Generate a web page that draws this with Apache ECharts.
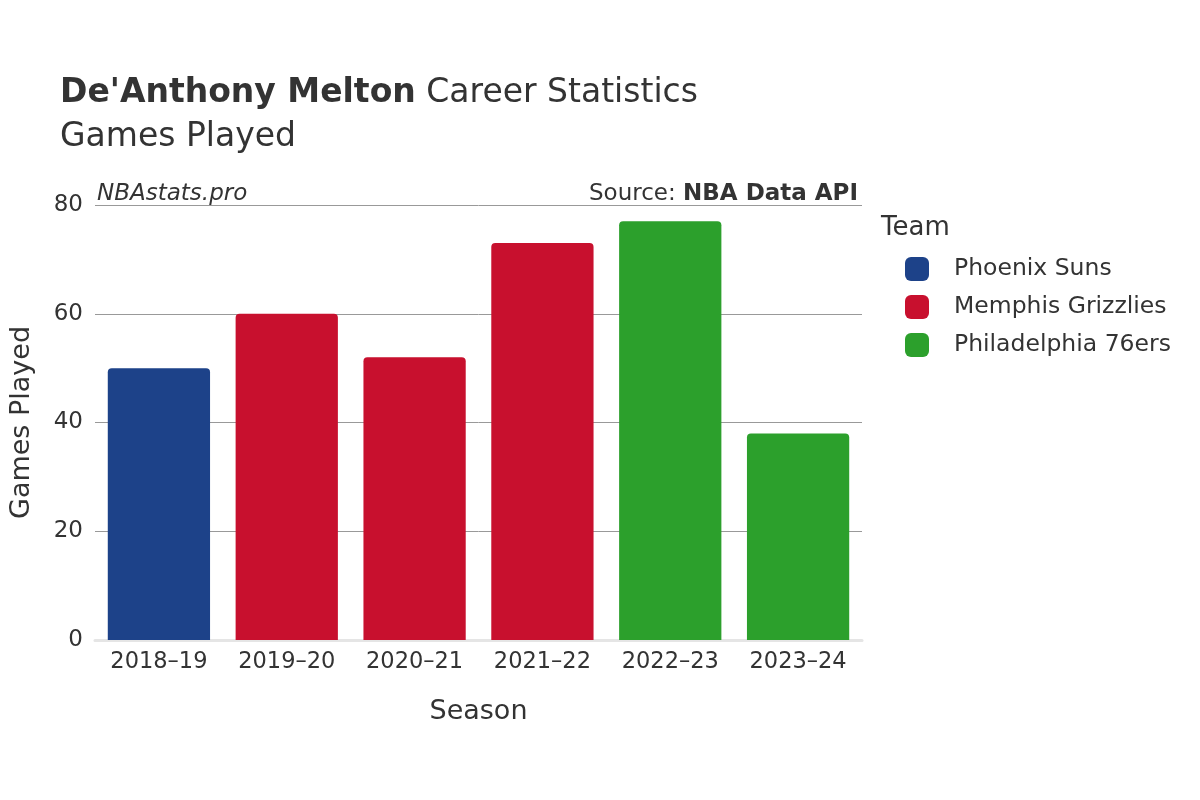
<!DOCTYPE html>
<html>
<head>
<meta charset="utf-8">
<script src="https://cdn.jsdelivr.net/npm/echarts@6/dist/echarts.min.js"></script>
</head>
<body style="margin:0">
<div id="main" style="width:1200px;height:800px;"></div>
<script>
var seasons = ['2018–19', '2019–20', '2020–21', '2021–22', '2022–23', '2023–24'];
var teams = ['Phoenix Suns', 'Memphis Grizzlies', 'Philadelphia 76ers'];
var colors = ['#1d4289', '#c8102e', '#2ca02c'];
var suns = [50, null, null, null, null, null];
var grizzlies = [null, 60, 52, 73, null, null];
var sixers = [null, null, null, null, 77, 38];
var yTicks = [0, 20, 40, 60, 80];

var font = 'DejaVu Sans';
var chart = echarts.init(document.getElementById('main'));
function mk(name, data, i) {
    return {
        name: name, type: 'bar', stack: 'g', data: data, barCategoryGap: '20%',
        itemStyle: { color: colors[i], borderRadius: [4, 4, 0, 0] }
    };
}
chart.setOption({
    animation: false,
    textStyle: { fontFamily: font },
    title: [
        { text: "{b|De'Anthony Melton} Career Statistics\nGames Played", left: 55, top: 66,
          textStyle: { fontFamily: font, fontSize: 33, color: '#333', fontWeight: 'normal', lineHeight: 44,
            rich: { b: { fontFamily: font, fontSize: 33, fontWeight: 'bold', color: '#333' } } } },
        { text: 'NBAstats.pro', left: 92, top: 178,
          textStyle: { fontFamily: font, fontSize: 23, fontStyle: 'italic', fontWeight: 'normal', color: '#333' } },
        { text: 'Source: {b|NBA Data API}', right: 337, top: 178,
          textStyle: { fontFamily: font, fontSize: 23, fontWeight: 'normal', color: '#333',
            rich: { b: { fontFamily: font, fontSize: 23, fontWeight: 'bold', color: '#333' } } } },
        { text: 'Team', left: 876, top: 210, textStyle: { fontFamily: font, fontSize: 26, fontWeight: 'normal', color: '#333' } }
    ],
    legend: {
        data: teams, orient: 'vertical', left: 900, top: 252, itemGap: 14,
        itemWidth: 24, itemHeight: 24, icon: 'roundRect',
        textStyle: { fontFamily: font, fontSize: 23.5, color: '#333', padding: [0, 0, 0, 20] }
    },
    grid: { left: 92, right: 338, top: 205, bottom: 160 },
    xAxis: {
        type: 'category', data: seasons, name: 'Season', nameLocation: 'middle', nameGap: 58,
        nameTextStyle: { fontSize: 27, color: '#333' },
        axisLine: { lineStyle: { color: '#e5e5e5', width: 3 } },
        axisTick: { show: false },
        axisLabel: { fontSize: 22.5, color: '#333', margin: 11, interval: 0 }
    },
    yAxis: {
        type: 'value', min: 0, max: 80, interval: 20, name: 'Games Played', nameLocation: 'middle', nameGap: 60,
        nameTextStyle: { fontSize: 27, color: '#333' },
        axisLine: { show: false }, axisTick: { show: false },
        axisLabel: { fontSize: 23, color: '#333', margin: 12 },
        splitLine: { lineStyle: { color: '#999', width: 1 } }
    },
    series: [mk(teams[0], suns, 0), mk(teams[1], grizzlies, 1), mk(teams[2], sixers, 2)]
});
</script>
</body>
</html>
